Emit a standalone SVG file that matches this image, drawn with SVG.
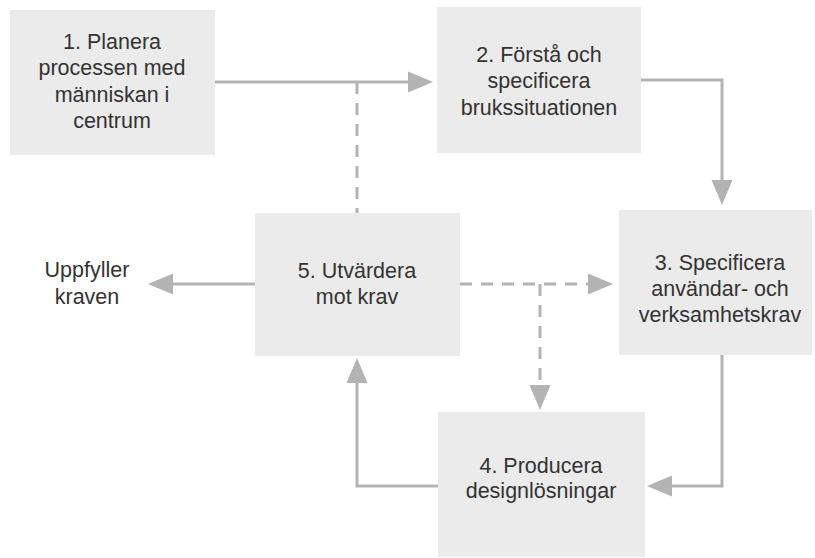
<svg xmlns="http://www.w3.org/2000/svg" width="815" height="558" viewBox="0 0 815 558">
  <style>
    .box { fill: #ebebeb; }
    .lbl { font-family: "Liberation Sans", Arial, sans-serif; font-size: 21.5px; fill: #333333; text-anchor: middle; }
    .con { fill: none; stroke: #b3b3b3; stroke-width: 3; }
    .dash { stroke-dasharray: 12 9; }
  </style>
  <defs>
    <marker id="ah" markerUnits="userSpaceOnUse" markerWidth="26" markerHeight="22" refX="0" refY="10.5" orient="auto" overflow="visible">
      <path d="M0,0 L25,10.5 L0,21 Z" fill="#b3b3b3"/>
    </marker>
  </defs>
  <rect width="815" height="558" fill="#ffffff"/>

  <g id="connectors">
    <path class="con" d="M215,82 H408" marker-end="url(#ah)"/>
    <path class="con dash" d="M357,82 V213"/>
    <path class="con" d="M641,80 H722 V180" marker-end="url(#ah)"/>
    <path class="con" d="M722,355 V486 H672" marker-end="url(#ah)"/>
    <path class="con" d="M438,486 H357 V383" marker-end="url(#ah)"/>
    <path class="con" d="M255,284 H173" marker-end="url(#ah)"/>
    <path class="con dash" d="M460,284 H588" marker-end="url(#ah)"/>
    <path class="con dash" d="M540,284 V385" marker-end="url(#ah)"/>
  </g>

  <g id="node1">
    <rect class="box" x="10" y="10" width="205" height="145"/>
    <text class="lbl" x="112" y="49">1. Planera</text>
    <text class="lbl" x="112" y="75">processen med</text>
    <text class="lbl" x="112" y="102">människan i</text>
    <text class="lbl" x="112" y="128">centrum</text>
  </g>
  <g id="node2">
    <rect class="box" x="437" y="7" width="204" height="146"/>
    <text class="lbl" x="539" y="62">2. Förstå och</text>
    <text class="lbl" x="539" y="88">specificera</text>
    <text class="lbl" x="539" y="115">brukssituationen</text>
  </g>
  <g id="node3">
    <rect class="box" x="619" y="210" width="193" height="145"/>
    <text class="lbl" x="720" y="270">3. Specificera</text>
    <text class="lbl" x="720" y="296">användar- och</text>
    <text class="lbl" x="720" y="322">verksamhetskrav</text>
  </g>
  <g id="node4">
    <rect class="box" x="438" y="412" width="207" height="145"/>
    <text class="lbl" x="541" y="473">4. Producera</text>
    <text class="lbl" x="541" y="498">designlösningar</text>
  </g>
  <g id="node5">
    <rect class="box" x="255" y="213" width="205" height="143"/>
    <text class="lbl" x="357" y="278">5. Utvärdera</text>
    <text class="lbl" x="357" y="304">mot krav</text>
  </g>
  <g id="result">
    <text class="lbl" x="87" y="277">Uppfyller</text>
    <text class="lbl" x="87" y="304">kraven</text>
  </g>
</svg>
